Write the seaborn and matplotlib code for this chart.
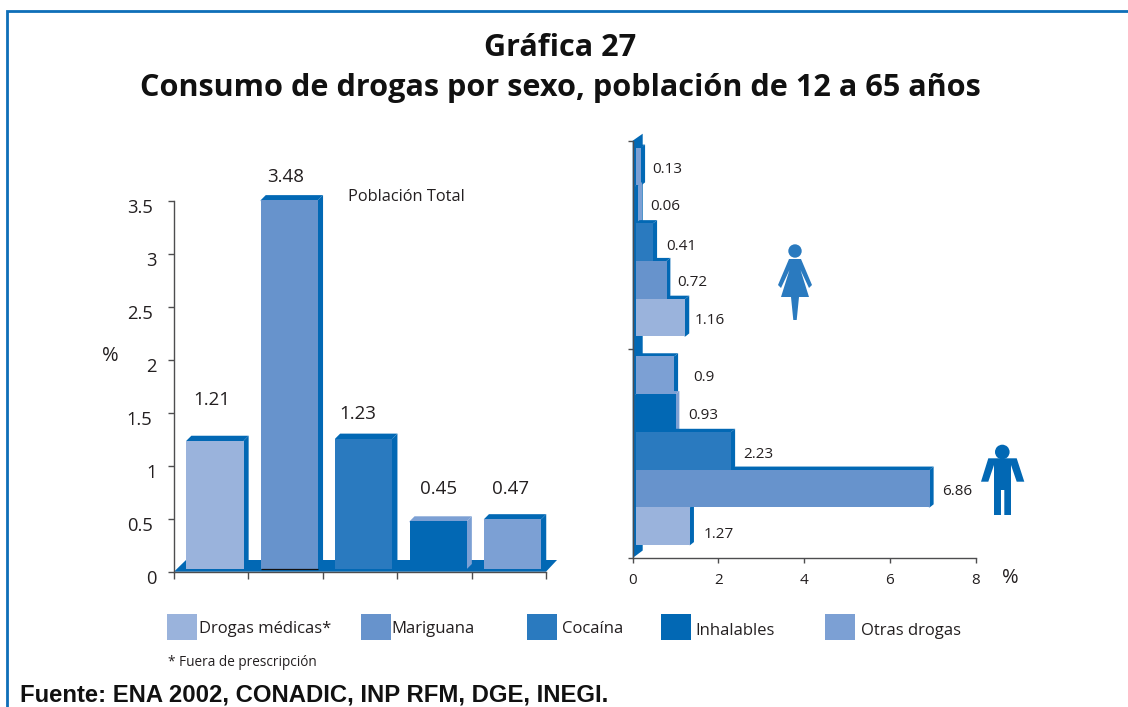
import matplotlib
matplotlib.use("Agg")
import matplotlib.pyplot as plt
import pandas as pd
import seaborn as sns
from matplotlib.patches import Polygon, Rectangle, Circle
from matplotlib.transforms import Affine2D, ScaledTranslation

# ---- data ----
substances = ["Drogas médicas*", "Mariguana", "Cocaína", "Inhalables", "Otras drogas"]
total_values = [1.21, 3.48, 1.23, 0.45, 0.47]
female_values = [1.16, 0.72, 0.41, 0.06, 0.13]
male_values = [1.27, 6.86, 2.23, 0.93, 0.90]
sexes = ["Mujeres", "Hombres"]
left_ticks = [0, 0.5, 1, 1.5, 2, 2.5, 3, 3.5]
left_tick_labels = ["0", "0.5", "1", "1.5", "2", "2.5", "3", "3.5"]
right_ticks = [0, 2, 4, 6, 8]

# ---- style ----
W, H = 1128, 707
DPI = 100
DARK = "#0268B4"
LIGHT_EDGE = "#7CA0D4"
INK = "#231F20"
colors = dict(zip(substances, ["#9AB3DC", "#6793CC", "#2A7ABF", "#0268B4", "#7CA0D4"]))
side_colors = {s: (LIGHT_EDGE if s == "Inhalables" else DARK) for s in substances}
FONT = "Open Sans"
BOLD = "Open Sans"
SOURCE = "Liberation Sans"

sns.set_theme(style="white")
plt.rcParams["font.family"] = [FONT, "DejaVu Sans"]
plt.rcParams["text.color"] = INK

fig = plt.figure(figsize=(W / DPI, H / DPI), dpi=DPI, facecolor="white")


def ax_px(x0, x1, ytop, ybot):
    return fig.add_axes([x0 / W, 1 - ybot / H, (x1 - x0) / W, (ybot - ytop) / H])


# pixel-space transform for decoration (origin top-left)
PX = Affine2D().scale(1 / W, -1 / H).translate(0, 1) + fig.transFigure


def style_axis(ax):
    ax.set_facecolor("none")
    ax.set_xlabel("")
    ax.set_ylabel("")
    for s in ("top", "right"):
        ax.spines[s].set_visible(False)
    for s in ("left", "bottom"):
        ax.spines[s].set_color("#4D4D4F")
        ax.spines[s].set_linewidth(1.0)


# ---- left chart ----
ax1 = ax_px(174, 546, 200.7, 571.7)
df_total = pd.DataFrame({"sustancia": substances, "valor": total_values})
sns.barplot(data=df_total, x="sustancia", y="valor", hue="sustancia", hue_order=substances,
            order=substances, palette=colors, width=0.77, dodge=False, legend=False,
            saturation=1, ax=ax1, zorder=4, linewidth=0, edgecolor="none")
ax1.set_xlim(-0.5, 4.5)
ax1.set_ylim(0, 3.5)
style_axis(ax1)
sx1, sy1 = 1 / (372 / 5), 1 / (371 / 3.5)  # data units per pixel

# floor
ax1.add_patch(Polygon([(-0.5, 0), (-0.5 + 12 * sx1, 11.7 * sy1), (4.5 + 11 * sx1, 11.7 * sy1), (4.5, 0)],
                      closed=True, fc=DARK, ec="none", zorder=1, clip_on=False))

bars1 = [p for p in ax1.patches if isinstance(p, Rectangle) and p.get_height() > 0]
bars1.sort(key=lambda p: p.get_x())
depth = 5
for bar, s in zip(bars1, substances):
    bar.set_x(bar.get_x() + 3.8 * sx1)
    bar.set_y(2.7 * sy1)
    x0, x1 = bar.get_x(), bar.get_x() + bar.get_width()
    y0, y1 = bar.get_y(), bar.get_y() + bar.get_height()
    dx, dy = depth * sx1, depth * sy1
    # faces reach one pixel under the front so no seam shows
    in_x, in_y = sx1, sy1
    ax1.add_patch(Polygon([(x1 - in_x, y0), (x1, y0), (x1 + dx, y0 + dy), (x1 + dx, y1 + dy), (x1, y1),
                           (x1 - in_x, y1)],
                          closed=True, fc=side_colors[s], ec="none", zorder=3, clip_on=False))
    top_c = LIGHT_EDGE if s == "Inhalables" else DARK
    ax1.add_patch(Polygon([(x0, y1 - in_y), (x0, y1), (x0 + dx, y1 + dy), (x1 + dx, y1 + dy), (x1, y1),
                           (x1, y1 - in_y)],
                          closed=True, fc=top_c, ec="none", zorder=3, clip_on=False))
    bar.set_clip_on(False)
    if s == "Mariguana":
        ax1.plot([x0, x1], [y0, y0], color="#111111", lw=0.9, zorder=5, clip_on=False,
                 solid_capstyle="butt")

ax1.set_xticks([i - 0.5 for i in range(6)])
ax1.set_xticklabels([])
ax1.tick_params(axis="x", length=6.5 * 72 / DPI, width=1, color="#4D4D4F", direction="out", bottom=True)
ax1.set_yticks(left_ticks)
ax1.set_yticklabels(left_tick_labels, fontsize=13.2, color=INK)
ax1.tick_params(axis="y", length=6.5 * 72 / DPI, width=1, color="#4D4D4F", direction="out", left=True,
                pad=7.5)
for lbl in ax1.get_yticklabels():
    shift_x = -4.5 if "." in lbl.get_text() else 0
    lbl.set_transform(lbl.get_transform() + ScaledTranslation(shift_x / DPI, -5 / DPI, fig.dpi_scale_trans))

left_label_offsets = [(-3, 40.5), (-4, 23.5), (-6, 24.5), (0, 32.5), (-2, 30)]
for bar, v, off in zip(bars1, total_values, left_label_offsets):
    cx = bar.get_x() + bar.get_width() / 2
    ax1.annotate(f"{v:.2f}", (cx, bar.get_y() + bar.get_height()), xytext=off, textcoords="offset pixels",
                 ha="center", va="center", fontsize=13.5, color=INK, annotation_clip=False)

# ---- right chart ----
ax2 = ax_px(632.7, 975.7, 140.7, 558)
df_h = pd.concat([
    pd.DataFrame({"sexo": sexes[0], "sustancia": substances, "valor": female_values}),
    pd.DataFrame({"sexo": sexes[1], "sustancia": substances, "valor": male_values}),
])
hue_order = substances[::-1]
sns.barplot(data=df_h, y="sexo", x="valor", hue="sustancia", order=sexes, hue_order=hue_order,
            palette=colors, width=0.905, gap=0, legend=False, saturation=1, ax=ax2, zorder=4,
            orient="h", linewidth=0, edgecolor="none")
ax2.set_xlim(0, 8)
ax2.set_ylim(1.5, -0.5)
style_axis(ax2)
sx2, sy2 = 8 / 343, 2 / 417.3

# wall
ax2.add_patch(Polygon([(0, 1.5), (10 * sx2, 1.5 - 7.5 * sy2), (10 * sx2, -0.5 - 7 * sy2), (0, -0.5)],
                      closed=True, fc=DARK, ec="none", zorder=1, clip_on=False))

bars2 = [p for p in ax2.patches if isinstance(p, Rectangle) and p.get_width() > 0]
bars2 = sorted(bars2, key=lambda p: p.get_y())
order_vals = [(s, sexes[0]) for s in hue_order] + [(s, sexes[1]) for s in hue_order]
vals_lookup = {(sexes[0], s): v for s, v in zip(substances, female_values)}
vals_lookup.update({(sexes[1], s): v for s, v in zip(substances, male_values)})
right_label_offsets = {
    (sexes[0], "Otras drogas"): (26, 3), (sexes[0], "Inhalables"): (26.5, 2), (sexes[0], "Cocaína"): (28, 4),
    (sexes[0], "Mariguana"): (26, 3), (sexes[0], "Drogas médicas*"): (24, 3),
    (sexes[1], "Otras drogas"): (30, 2), (sexes[1], "Inhalables"): (28, 3), (sexes[1], "Cocaína"): (27, 4),
    (sexes[1], "Mariguana"): (27, 3), (sexes[1], "Drogas médicas*"): (29, 8),
}
dx2, dy2 = 3.8 * sx2, 3 * sy2
for bar, (s, sex) in zip(bars2, order_vals):
    bar.set_x(3.0 * sx2)
    bar.set_y(bar.get_y() - 3 * sy2)
    bar.set_clip_on(False)
    x0, x1 = bar.get_x(), bar.get_x() + bar.get_width()
    yt, yb = bar.get_y(), bar.get_y() + bar.get_height()
    in_x, in_y = sx2, sy2
    ax2.add_patch(Polygon([(x1 - in_x, yb), (x1, yb), (x1 + dx2, yb - dy2), (x1 + dx2, yt - dy2), (x1, yt),
                           (x1 - in_x, yt)],
                          closed=True, fc=side_colors[s], ec="none", zorder=3, clip_on=False))
    ax2.add_patch(Polygon([(x0, yt + in_y), (x0, yt), (x0 + dx2, yt - dy2), (x1 + dx2, yt - dy2), (x1, yt),
                           (x1, yt + in_y)],
                          closed=True, fc=side_colors[s], ec="none", zorder=3, clip_on=False))
    v = vals_lookup[(sex, s)]
    off = right_label_offsets[(sex, s)]
    ax2.annotate(f"{v:g}", (x1, (yt + yb) / 2), xytext=(off[0], -off[1]), textcoords="offset pixels",
                 ha="center", va="center", fontsize=11, color=INK, annotation_clip=False)

ax2.set_xticks(right_ticks)
ax2.set_xticklabels([str(t) for t in right_ticks], fontsize=11, color=INK)
ax2.tick_params(axis="x", length=5 * 72 / DPI, width=1, color="#4D4D4F", direction="out", bottom=True, pad=7)
ax2.set_yticks([-0.5, 0.5, 1.5])
ax2.set_yticklabels([])
ax2.tick_params(axis="y", length=5.5 * 72 / DPI, width=1, color="#4D4D4F", direction="out", left=True)


# ---- free text (pixel positions) ----
def txt(x, y, s, **kw):
    kw.setdefault("ha", "left")
    kw.setdefault("va", "center")
    kw.setdefault("transform", PX)
    return fig.text(x, y, s, **kw)


txt(560, 48, "Gráfica 27", ha="center", fontsize=22.1, fontweight="bold", family=BOLD, color="#111111")
txt(560, 88, "Consumo de drogas por sexo, población de 12 a 65 años", ha="center", fontsize=22.1,
    fontweight="bold", family=BOLD, color="#111111")
txt(348, 197, "Población Total", fontsize=11.8)
txt(110, 356, "%", ha="center", fontsize=14.5)
txt(1010, 578, "%", ha="center", fontsize=14.5)

# legend
swatch_x = [166.5, 360.5, 527, 661, 825]
label_x = [199, 391, 562, 695, 861]
label_y = [629, 629, 629, 631, 631]
for s, xs, xl, yl in zip(substances, swatch_x, label_x, label_y):
    fig.add_artist(Rectangle((xs, 614), 30, 26, transform=PX, fc=colors[s], ec="none"))
    txt(xl, yl, s, fontsize=12)
txt(168, 662, "* Fuera de prescripción", fontsize=9.8)
txt(20, 695, "Fuente: ENA 2002, CONADIC, INP RFM, DGE, INEGI.", fontsize=17.2, fontweight="bold",
    family=SOURCE, color="#111111")

# frame
fig.add_artist(plt.Line2D([7, 7, 1128], [707, 10.5, 10.5], transform=PX, color="#0F6FB8", lw=2.8 * 72 / DPI,
                          solid_joinstyle="miter"))

# ---- pictograms ----
FEMALE = "#2A7ABF"
fig.add_artist(Circle((795, 251), 6.7, transform=PX, fc=FEMALE, ec="none"))
fig.add_artist(Polygon([(789, 259), (801, 259), (812, 285), (809, 288), (800.5, 270), (809, 297), (799, 297),
                        (796.7, 320), (793.3, 320), (791, 297), (781, 297), (789.5, 270), (781, 288), (778, 285)],
                       closed=True, transform=PX, fc=FEMALE, ec="none"))
MALE = "#0268B4"
fig.add_artist(Circle((1002.3, 452), 7.3, transform=PX, fc=MALE, ec="none"))
fig.add_artist(Polygon([(988.3, 458.3), (1016.7, 458.3), (1024.3, 481.7), (1016.7, 481.7), (1011, 465), (1011, 515),
                        (1004.3, 515), (1004.3, 490), (1001, 490), (1001, 515), (994, 515), (994, 465),
                        (988.3, 481.7), (981, 481.7)],
                       closed=True, transform=PX, fc=MALE, ec="none"))

fig.savefig("out.png", dpi=DPI, facecolor="white")
